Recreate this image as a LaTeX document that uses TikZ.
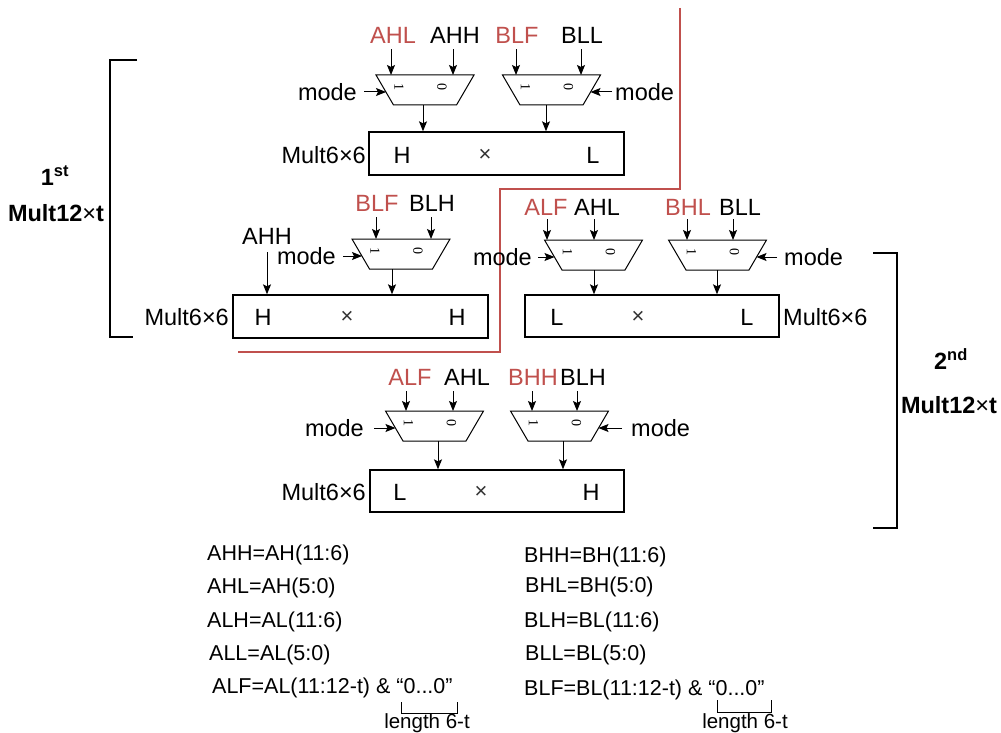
\documentclass[tikz,border=0pt]{standalone}
\usepackage{fontspec}
\setmainfont{Liberation Sans}
\newfontfamily\digitfont{Liberation Serif}
\usetikzlibrary{arrows.meta,calc}
\definecolor{sidred}{RGB}{192,80,77}
\newcommand\muxshape[6]{%
  \draw[muxline] ({#2-49},#3) -- ({#2+49},#3) -- ({#2+31.5},{#3+30}) -- ({#2-31.5},{#3+30}) -- cycle;
  \coordinate (#1-i1) at (#4,#3);
  \coordinate (#1-i0) at (#5,#3);
  \coordinate (#1-o) at (#6,{#3+30});
  \coordinate (#1-l) at ({#2-39},{#3+17});
  \coordinate (#1-r) at ({#2+39},{#3+17});
  \node[digit] (#1-d1) at ({#2-26},{#3+12}) {1};
  \node[digit] (#1-d0) at ({#2+17},{#3+12}) {0};
}
\begin{document}
\begin{tikzpicture}[x=1pt,y=-1pt,
  lbl/.style={font=\fontsize{23.5}{28}\selectfont, inner sep=1pt},
  redlbl/.style={lbl, text=sidred},
  times/.style={font=\fontsize{22}{26}\selectfont, inner sep=1pt, text=black!80},
  eq/.style={font=\fontsize{21.5}{26}\selectfont, anchor=west, inner sep=0pt},
  small/.style={font=\fontsize{20.5}{24}\selectfont, inner sep=0pt},
  digit/.style={font=\digitfont\fontsize{14}{16}\selectfont, rotate=-90, inner sep=0pt},
  muxline/.style={line width=1pt},
  arr/.style={line width=1pt, -{Stealth[length=10pt,width=8pt,inset=2pt]}},
  inarr/.style={arr, shorten <=5pt},
  multbox/.style={draw, line width=1.4pt, minimum width=255pt, minimum height=43pt, inner sep=0pt},
  brk/.style={line width=2.4pt},
  redline/.style={draw=sidred, line width=2.2pt},
  thin/.style={line width=1pt},
  bold/.style={font=\fontsize{23.5}{28}\selectfont\bfseries, inner sep=1pt}
]
\fill[white] (0,0) rectangle (1001,733);
\useasboundingbox (0,0) rectangle (1001,733);

% red separator
\draw[redline] (680,8) -- (680,189) -- (500,189) -- (500,352) -- (238,352);

% brackets
\draw[brk] (137,60) -- (110,60) -- (110,337) -- (133,337);
\draw[brk] (873,253) -- (897,253) -- (897,528) -- (873,528);
\node[bold] (lab1a) at (55,176) {1\textsuperscript{st}};
\node[bold] (lab1b) at (56,213) {Mult12{\mdseries ×}t};
\node[bold] (lab2a) at (951,359) {2\textsuperscript{nd}};
\node[bold] (lab2b) at (949,405) {Mult12{\mdseries ×}t};

% ---------- top multiplier ----------
\node[multbox] (m1) at (496.5,153.5) {};
\node[lbl] (m1h) at (402,155) {H};
\node[times] (m1x) at (485,155) {×};
\node[lbl] (m1l) at (593,155) {L};
\node[lbl, anchor=east] (m1n) at (367,155) {Mult6×6};

\muxshape{ta}{425}{75}{391}{453}{423}
\node[redlbl] (ta1) at (393,35) {AHL};
\node[lbl] (ta0) at (455,35) {AHH};
\draw[inarr] (ta1.south -| ta-i1) -- (ta-i1);
\draw[inarr] (ta0.south -| ta-i0) -- (ta-i0);
\node[lbl, anchor=east] (ta-m) at ($(ta-l)+(-28,0)$) {mode};
\draw[arr, shorten <=6pt] (ta-m.east) -- (ta-l);
\draw[arr] (ta-o) -- (ta-o |- m1.north);

\muxshape{tb}{551.5}{75}{516}{581}{546}
\node[redlbl] (tb1) at (517,35) {BLF};
\node[lbl] (tb0) at (582,35) {BLL};
\draw[inarr] (tb1.south -| tb-i1) -- (tb-i1);
\draw[inarr] (tb0.south -| tb-i0) -- (tb-i0);
\node[lbl, anchor=west] (tb-m) at ($(tb-r)+(23.5,0)$) {mode};
\draw[arr, shorten <=2pt] (tb-m.west) -- (tb-r);
\draw[arr] (tb-o) -- (tb-o |- m1.north);

% ---------- middle-left multiplier ----------
\node[multbox] (m2) at (360.5,316.5) {};
\node[lbl] (m2h) at (263,317) {H};
\node[times] (m2x) at (347,317) {×};
\node[lbl] (m2k) at (457,317) {H};
\node[lbl, anchor=east] (m2n) at (230,317) {Mult6×6};

\muxshape{ma}{401}{239}{376}{431}{392}
\node[redlbl] (ma1) at (377,203) {BLF};
\node[lbl] (ma0) at (432,203) {BLH};
\draw[inarr] (ma1.south -| ma-i1) -- (ma-i1);
\draw[inarr] (ma0.south -| ma-i0) -- (ma-i0);
\node[lbl, anchor=east] (ma-m) at ($(ma-l)+(-25,0)$) {mode};
\draw[arr, shorten <=6pt] (ma-m.east) -- (ma-l);
\draw[arr] (ma-o) -- (ma-o |- m2.north);
\node[lbl] (ahh) at (267,236) {AHH};
\draw[arr, shorten <=7pt] (ahh.south) -- (ahh.south |- m2.north);

% ---------- middle-right multiplier ----------
\node[multbox, minimum width=254pt, minimum height=42pt] (m3) at (652,316) {};
\node[lbl] (m3l) at (557,317) {L};
\node[times] (m3x) at (638,317) {×};
\node[lbl] (m3k) at (747,317) {L};
\node[lbl, anchor=west] (m3n) at (782,317) {Mult6×6};

\muxshape{ra}{593.5}{240}{547}{594}{594}
\node[redlbl] (ra1) at (546,207) {ALF};
\node[lbl] (ra0) at (597,207) {AHL};
\draw[inarr, shorten <=3pt] (ra1.south -| ra-i1) -- (ra-i1);
\draw[inarr, shorten <=3pt] (ra0.south -| ra-i0) -- (ra-i0);
\node[lbl, anchor=east] (ra-m) at ($(ra-l)+(-21.5,0)$) {mode};
\draw[arr, shorten <=5pt] (ra-m.east) -- (ra-l);
\draw[arr] (ra-o) -- (ra-o |- m3.north);

\muxshape{rb}{717.5}{240}{687}{733}{717}
\node[redlbl] (rb1) at (688,207) {BHL};
\node[lbl] (rb0) at (740,207) {BLL};
\draw[inarr, shorten <=3pt] (rb1.south -| rb-i1) -- (rb-i1);
\draw[inarr, shorten <=3pt] (rb0.south -| rb-i0) -- (rb-i0);
\node[lbl, anchor=west] (rb-m) at ($(rb-r)+(26.5,0)$) {mode};
\draw[arr, shorten <=6pt] (rb-m.west) -- (rb-r);
\draw[arr] (rb-o) -- (rb-o |- m3.north);

% ---------- bottom multiplier ----------
\node[multbox, minimum width=254pt, minimum height=42pt] (m4) at (497,491) {};
\node[lbl] (m4l) at (400,492) {L};
\node[times] (m4x) at (481,492) {×};
\node[lbl] (m4h) at (591,492) {H};
\node[lbl, anchor=east] (m4n) at (367,492) {Mult6×6};

\muxshape{ba}{434.5}{411}{406}{453}{438}
\node[redlbl] (ba1) at (410,377) {ALF};
\node[lbl] (ba0) at (467,377) {AHL};
\draw[inarr] (ba1.south -| ba-i1) -- (ba-i1);
\draw[inarr] (ba0.south -| ba-i0) -- (ba-i0);
\node[lbl, anchor=east] (ba-m) at ($(ba-l)+(-30.5,0)$) {mode};
\draw[arr, shorten <=9pt] (ba-m.east) -- (ba-l);
\draw[arr] (ba-o) -- (ba-o |- m4.north);

\muxshape{bb}{559.5}{411}{532}{577}{563}
\node[redlbl] (bb1) at (533,377) {BHH};
\node[lbl] (bb0) at (583,377) {BLH};
\draw[inarr] (bb1.south -| bb-i1) -- (bb-i1);
\draw[inarr] (bb0.south -| bb-i0) -- (bb-i0);
\node[lbl, anchor=west] (bb-m) at ($(bb-r)+(31.5,0)$) {mode};
\draw[arr, shorten <=8pt] (bb-m.west) -- (bb-r);
\draw[arr] (bb-o) -- (bb-o |- m4.north);

% ---------- definitions ----------
\node[eq] (e1) at (207,555) {AHH=AH(11:6)};
\node[eq] (e2) at (207,588) {AHL=AH(5:0)};
\node[eq] (e3) at (207,622) {ALH=AL(11:6)};
\node[eq] (e4) at (209,655) {ALL=AL(5:0)};
\node[eq] (e5) at (212,688) {ALF=AL(11:12-t) \& “0...0”};
\draw[thin] (401,702) -- (401,713) -- (457,713) -- (457,702);
\node[small, anchor=base] (len1) at (427,728) {length 6-t};

\node[eq] (f1) at (524,557) {BHH=BH(11:6)};
\node[eq] (f2) at (525,587) {BHL=BH(5:0)};
\node[eq] (f3) at (524,622) {BLH=BL(11:6)};
\node[eq] (f4) at (525,655) {BLL=BL(5:0)};
\node[eq] (f5) at (524,690) {BLF=BL(11:12-t) \& “0...0”};
\draw[thin] (717,700) -- (717,712) -- (771,712) -- (771,700);
\node[small, anchor=base] (len2) at (745,728) {length 6-t};
\end{tikzpicture}
\end{document}
